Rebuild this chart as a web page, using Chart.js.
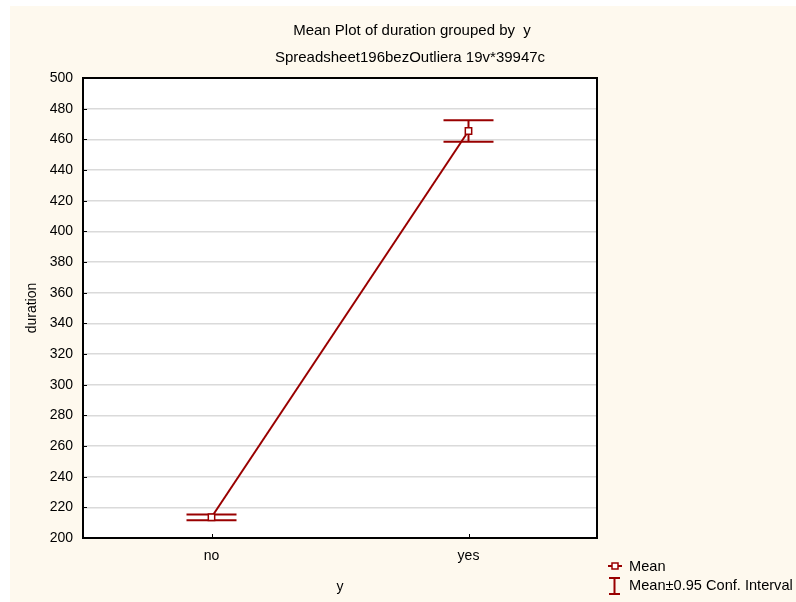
<!DOCTYPE html>
<html>
<head>
<meta charset="utf-8">
<script src="https://cdn.jsdelivr.net/npm/chart.js@4.4.1/dist/chart.umd.min.js"></script>
<style>
  html, body { margin: 0; padding: 0; background: #ffffff; }
  canvas { display: block; }
</style>
</head>
<body>
<canvas id="chart" width="796" height="602"></canvas>
<script>
// Group labels and mean duration per group
const categories = ['no', 'yes'];
const meanValues = [213.5, 465.4];
// 95% confidence interval bounds for each group mean
const ciLower = [211.5, 458.4];
const ciUpper = [215.4, 472.5];
// Value axis range
const yMin = 200;
const yMax = 500;
const yStep = 20;

const titleText = 'Mean Plot of duration grouped by  y';
const subtitleText = 'Spreadsheet196bezOutliera 19v*39947c';
const legendLabels = ['Mean', 'Mean\u00b10.95 Conf. Interval'];

const RED = '#990000';
const FONT = '"Liberation Sans", Arial, sans-serif';

const framePlugin = {
  id: 'frame',
  beforeDraw(chart) {
    const { ctx, chartArea: a } = chart;
    ctx.save();
    ctx.fillStyle = '#fef9ee';
    ctx.fillRect(10, 6, chart.width - 10, chart.height - 6);
    ctx.fillStyle = '#ffffff';
    ctx.fillRect(a.left, a.top, a.right - a.left, a.bottom - a.top);
    ctx.restore();
  },
  beforeDatasetsDraw(chart) {
    const { ctx, chartArea: a, scales } = chart;
    ctx.save();
    ctx.strokeStyle = '#000000';
    ctx.lineWidth = 1;
    // inward tick marks on the value axis
    scales.y.ticks.forEach((t, i) => {
      if (t.value === yMin || t.value === yMax) return;
      const py = Math.round(scales.y.getPixelForTick(i)) + 0.5;
      ctx.beginPath();
      ctx.moveTo(a.left, py);
      ctx.lineTo(a.left + 4, py);
      ctx.stroke();
    });
    // inward tick marks on the category axis
    categories.forEach((c, i) => {
      const px = Math.round(scales.x.getPixelForValue(i)) + 0.5;
      ctx.beginPath();
      ctx.moveTo(px, a.bottom);
      ctx.lineTo(px, a.bottom - 4);
      ctx.stroke();
    });
    // plot frame
    ctx.lineWidth = 2;
    ctx.strokeRect(a.left, a.top, a.right - a.left, a.bottom - a.top);

    // confidence interval whiskers
    ctx.strokeStyle = RED;
    ctx.lineWidth = 2;
    categories.forEach((c, i) => {
      const px = scales.x.getPixelForValue(i);
      const lo = scales.y.getPixelForValue(ciLower[i]);
      const hi = scales.y.getPixelForValue(ciUpper[i]);
      ctx.beginPath();
      ctx.moveTo(px, lo);
      ctx.lineTo(px, hi);
      ctx.moveTo(px - 25, lo);
      ctx.lineTo(px + 25, lo);
      ctx.moveTo(px - 25, hi);
      ctx.lineTo(px + 25, hi);
      ctx.stroke();
    });
    ctx.restore();
  },
  afterDraw(chart) {
    const { ctx } = chart;
    ctx.save();
    ctx.fillStyle = '#000000';
    ctx.textAlign = 'center';
    ctx.textBaseline = 'middle';
    ctx.font = '15px ' + FONT;
    ctx.fillText(titleText, 412, 31);
    ctx.fillText(subtitleText, 410, 58);

    // legend
    ctx.textAlign = 'left';
    ctx.font = '14.6px ' + FONT;
    ctx.fillText(legendLabels[0], 629, 567);
    ctx.fillText(legendLabels[1], 629, 586);
    ctx.strokeStyle = RED;
    ctx.lineWidth = 2;
    ctx.beginPath();
    ctx.moveTo(608, 566);
    ctx.lineTo(622, 566);
    ctx.stroke();
    ctx.fillStyle = '#ffffff';
    ctx.fillRect(612, 563, 6, 6);
    ctx.lineWidth = 1.5;
    ctx.strokeRect(612, 563, 6, 6);
    ctx.lineWidth = 2;
    ctx.beginPath();
    ctx.moveTo(614.5, 578);
    ctx.lineTo(614.5, 594);
    ctx.moveTo(609, 578);
    ctx.lineTo(620, 578);
    ctx.moveTo(609, 594);
    ctx.lineTo(620, 594);
    ctx.stroke();
    ctx.restore();
  }
};

new Chart(document.getElementById('chart'), {
  type: 'line',
  data: {
    labels: categories,
    datasets: [{
      label: legendLabels[0],
      data: meanValues,
      borderColor: RED,
      borderWidth: 2,
      pointStyle: 'rect',
      pointRadius: 4.5,
      pointBorderWidth: 1.5,
      pointBackgroundColor: '#ffffff',
      pointBorderColor: RED,
      tension: 0
    }]
  },
  options: {
    responsive: false,
    devicePixelRatio: 1,
    animation: false,
    layout: { padding: { left: 0, top: 78, right: 199, bottom: 0 } },
    plugins: {
      legend: { display: false },
      title: { display: false },
      tooltip: { enabled: false }
    },
    scales: {
      x: {
        type: 'category',
        offset: true,
        grid: { display: false, drawTicks: false },
        border: { display: false },
        ticks: { color: '#000000', font: { family: FONT, size: 14 }, padding: 10 },
        title: { display: true, text: 'y', color: '#000000', font: { family: FONT, size: 14 }, padding: { top: 0, bottom: 6 } },
        afterFit(scale) { scale.height = 64; }
      },
      y: {
        min: yMin,
        max: yMax,
        grid: { color: '#dadada', lineWidth: 1.5, drawTicks: false },
        border: { display: false },
        ticks: { stepSize: yStep, color: '#000000', font: { family: FONT, size: 14 }, padding: 10 },
        title: { display: true, text: 'duration', color: '#000000', font: { family: FONT, size: 14 }, padding: { top: 24, bottom: 0 } },
        afterFit(scale) { scale.width = 83; }
      }
    }
  },
  plugins: [framePlugin]
});
</script>
</body>
</html>
